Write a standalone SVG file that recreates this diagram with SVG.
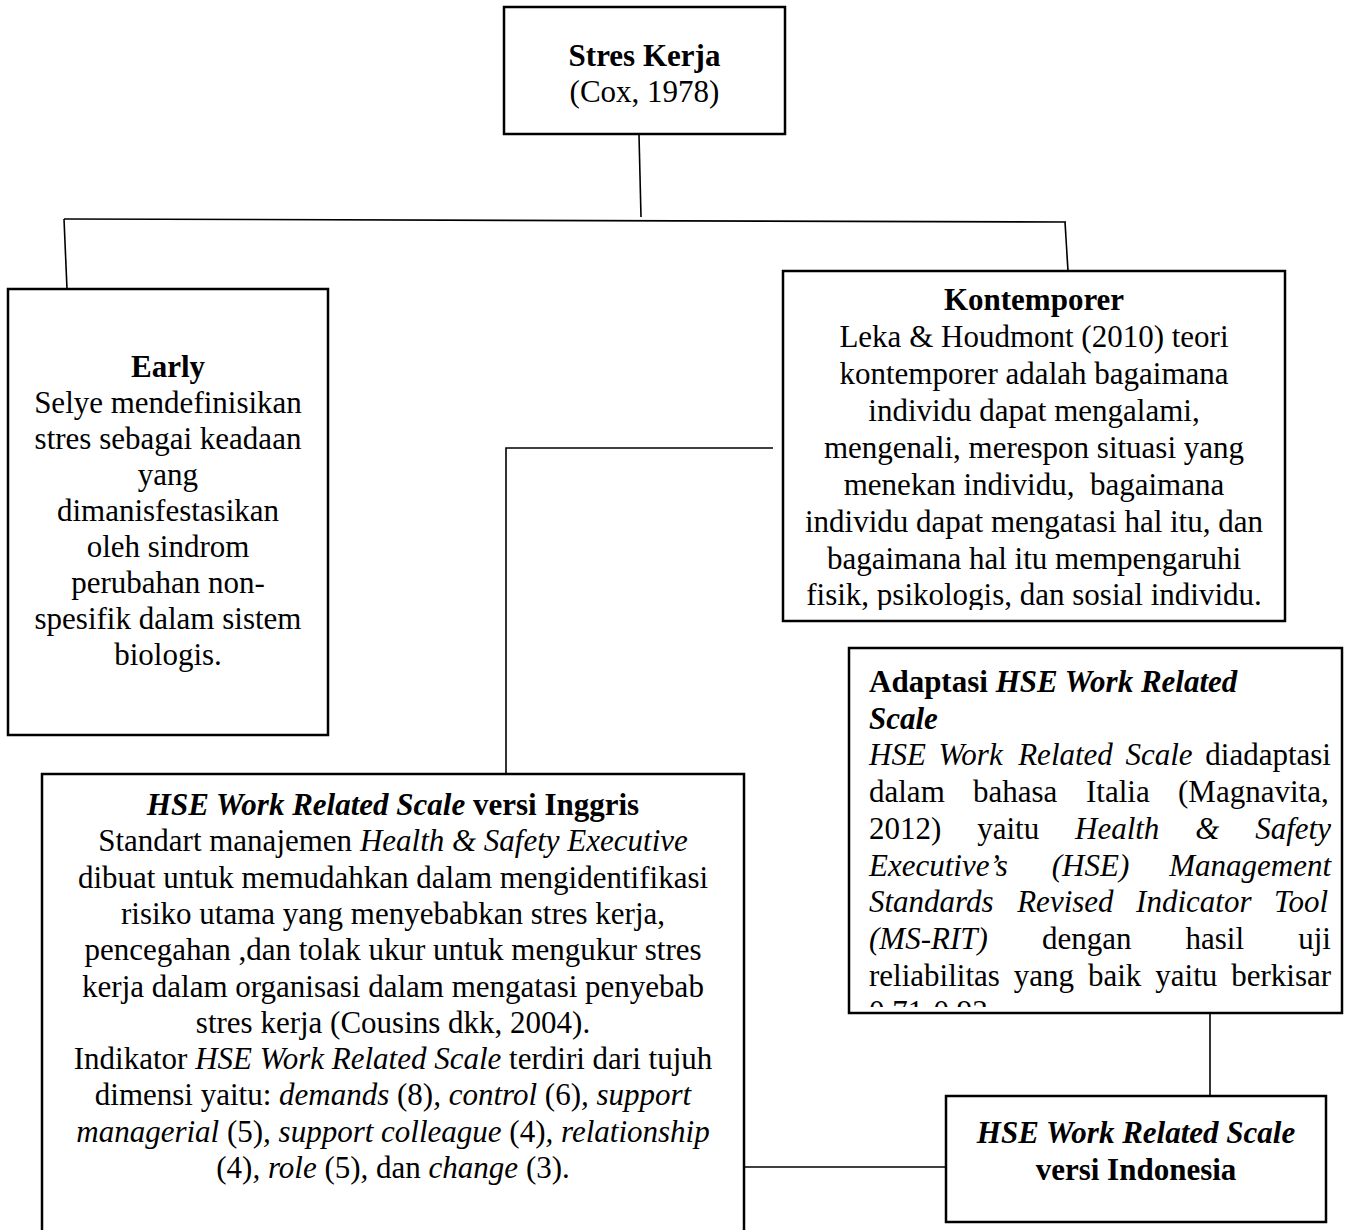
<svg xmlns="http://www.w3.org/2000/svg" width="1360" height="1230" viewBox="0 0 1360 1230">
<style>
.box{fill:#fff;stroke:#000;stroke-width:2.5}
.con{fill:none;stroke:#000;stroke-width:1.6}
text{font-family:"Liberation Serif","Times New Roman",serif;font-size:31px;fill:#000}
.c{text-anchor:middle}
.e{text-anchor:end}
.b{font-weight:bold}
.i{font-style:italic}
</style>
<defs>
<clipPath id="clipK"><rect x="783" y="271" width="502" height="339"/></clipPath>
<clipPath id="clipA"><rect x="849" y="648" width="493" height="359"/></clipPath>
</defs>
<rect width="1360" height="1230" fill="#fff"/>
<g id="connectors">
<line class="con" x1="639" y1="135" x2="641" y2="217"/>
<line class="con" x1="64" y1="219" x2="1066" y2="222"/>
<line class="con" x1="64" y1="219" x2="67" y2="289"/>
<line class="con" x1="1065" y1="222" x2="1068" y2="271"/>
<polyline class="con" points="773,448 506,448 506,774"/>
<line class="con" x1="1210" y1="1013" x2="1210" y2="1096"/>
<line class="con" x1="744" y1="1167" x2="946" y2="1167"/>
</g>
<g id="node-stres-kerja">
<rect class="box" x="504" y="7" width="281" height="127"/>
<text class="c b" x="644.5" y="66">Stres Kerja</text>
<text class="c" x="644.5" y="102">(Cox, 1978)</text>
</g>
<g id="node-early">
<rect class="box" x="8" y="289" width="320" height="446"/>
<text class="c b" x="168" y="377">Early</text>
<text class="c" x="168" y="413">Selye mendefinisikan</text>
<text class="c" x="168" y="449">stres sebagai keadaan</text>
<text class="c" x="168" y="485">yang</text>
<text class="c" x="168" y="521">dimanisfestasikan</text>
<text class="c" x="168" y="557">oleh sindrom</text>
<text class="c" x="168" y="593">perubahan non-</text>
<text class="c" x="168" y="629">spesifik dalam sistem</text>
<text class="c" x="168" y="665">biologis.</text>
</g>
<g id="node-kontemporer">
<rect class="box" x="783" y="271" width="502" height="350"/>
<g clip-path="url(#clipK)">
<text class="c b" x="1034" y="310">Kontemporer</text>
<text class="c" x="1034" y="347">Leka &amp; Houdmont (2010) teori</text>
<text class="c" x="1034" y="384">kontemporer adalah bagaimana</text>
<text class="c" x="1034" y="421">individu dapat mengalami,</text>
<text class="c" x="1034" y="458">mengenali, merespon situasi yang</text>
<text class="c" x="1034" y="495" style="white-space:pre">menekan individu,  bagaimana</text>
<text class="c" x="1034" y="532">individu dapat mengatasi hal itu, dan</text>
<text class="c" x="1034" y="569">bagaimana hal itu mempengaruhi</text>
<text class="c" x="1034" y="605">fisik, psikologis, dan sosial individu.</text>
</g>
</g>
<g id="node-adaptasi">
<rect class="box" x="849" y="648" width="493" height="365"/>
<g clip-path="url(#clipA)">
<text class="b" x="869" y="692">Adaptasi <tspan class="i">HSE Work Related</tspan></text>
<text class="b i" x="869" y="728.7">Scale</text>
<text y="765.4"><tspan class="i" x="869">HSE</tspan><tspan class="i" x="938.4">Work</tspan><tspan class="i" x="1018.2">Related</tspan><tspan class="i" x="1125.5">Scale</tspan><tspan x="1205.3">diadaptasi</tspan></text>
<text y="802.1"><tspan x="869">dalam</tspan><tspan x="973">bahasa</tspan><tspan x="1086">Italia</tspan><tspan x="1178">(Magnavita,</tspan></text>
<text y="838.8"><tspan x="869">2012)</tspan><tspan x="977.2">yaitu</tspan><tspan class="i" x="1075">Health</tspan><tspan class="i" x="1195.3">&amp;</tspan><tspan class="i" x="1255.2">Safety</tspan></text>
<text class="i" y="875.5"><tspan x="869">Executive’s</tspan><tspan x="1051.8">(HSE)</tspan><tspan x="1169.2">Management</tspan></text>
<text class="i" y="912.2"><tspan x="869">Standards</tspan><tspan x="1017.2">Revised</tspan><tspan x="1136.1">Indicator</tspan><tspan x="1274">Tool</tspan></text>
<text y="948.9"><tspan class="i" x="869">(MS-RIT)</tspan><tspan x="1041.9">dengan</tspan><tspan x="1185.5">hasil</tspan><tspan x="1298.2">uji</tspan></text>
<text y="985.6"><tspan x="869">reliabilitas</tspan><tspan x="1013.8">yang</tspan><tspan x="1088">baik</tspan><tspan x="1155.3">yaitu</tspan><tspan x="1231.2">berkisar</tspan></text>
<text x="869" y="1022.3">0,71-0,93.</text>
</g>
</g>
<g id="node-hse-inggris">
<rect class="box" x="42" y="774" width="702" height="480"/>
<text class="c b" x="393" y="815"><tspan class="i">HSE Work Related Scale</tspan> versi Inggris</text>
<text class="c" x="393" y="851.3">Standart manajemen <tspan class="i">Health &amp; Safety Executive</tspan></text>
<text class="c" x="393" y="887.6">dibuat untuk memudahkan dalam mengidentifikasi</text>
<text class="c" x="393" y="923.9">risiko utama yang menyebabkan stres kerja,</text>
<text class="c" x="393" y="960.2">pencegahan ,dan tolak ukur untuk mengukur stres</text>
<text class="c" x="393" y="996.5">kerja dalam organisasi dalam mengatasi penyebab</text>
<text class="c" x="393" y="1032.8">stres kerja (Cousins dkk, 2004).</text>
<text class="c" x="393" y="1069.1">Indikator <tspan class="i">HSE Work Related Scale</tspan> terdiri dari tujuh</text>
<text class="c" x="393" y="1105.4">dimensi yaitu: <tspan class="i">demands</tspan> (8)<tspan class="i">, control</tspan> (6)<tspan class="i">, support</tspan></text>
<text class="c" x="393" y="1141.7"><tspan class="i">managerial</tspan> (5)<tspan class="i">, support colleague</tspan> (4)<tspan class="i">, relationship</tspan></text>
<text class="c" x="393" y="1178">(4)<tspan class="i">, role</tspan> (5)<tspan class="i">,</tspan> dan <tspan class="i">change</tspan> (3).</text>
</g>
<g id="node-hse-indonesia">
<rect class="box" x="946" y="1096" width="380" height="126"/>
<text class="c b i" x="1136" y="1143">HSE Work Related Scale</text>
<text class="c b" x="1136" y="1180">versi Indonesia</text>
</g>
</svg>
